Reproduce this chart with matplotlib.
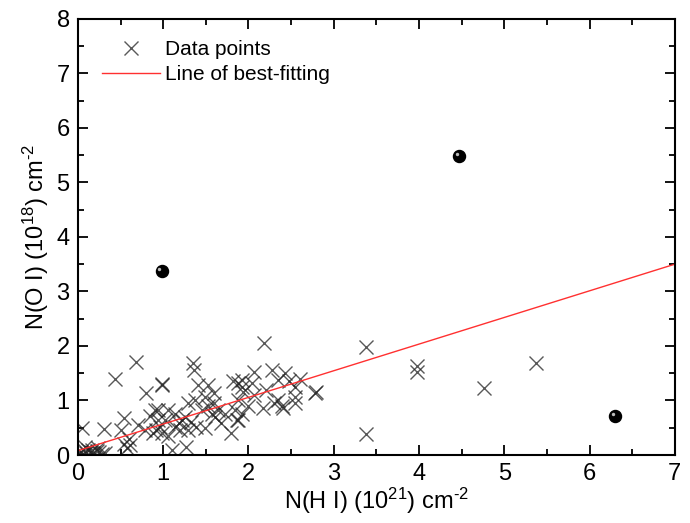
import matplotlib
matplotlib.use("Agg")
import matplotlib.pyplot as plt
import matplotlib.transforms as mtransforms
from matplotlib.ticker import MultipleLocator

plt.rcParams['font.family'] = ['Liberation Sans', 'DejaVu Sans']
plt.rcParams['mathtext.fontset'] = 'custom'
plt.rcParams['mathtext.rm'] = 'Liberation Sans'
plt.rcParams['mathtext.default'] = 'regular'

# N(H I) in 1e21 cm^-2, N(O I) in 1e18 cm^-2
nh = [0.02, 0.04, 0.06, 0.08, 0.10, 0.12, 0.15, 0.18, 0.22, 0.25, 0.28, 0.32,
      0.05, 0.08, 0.16, 0.24, 0.31, 0.43, 0.68, 0.54, 0.54, 0.80, 0.51, 0.90,
      0.94, 0.92, 0.79, 0.98, 0.57, 0.61, 0.70, 0.60, 0.85,
      0.99, 1.35, 1.36, 1.82, 1.92, 1.80, 1.27, 1.10, 1.41, 1.53, 1.59, 1.49,
      1.37, 1.29, 1.59, 1.53, 1.45, 1.64, 1.61, 1.72, 1.84, 1.22, 1.25, 1.18,
      1.14, 1.06, 1.02, 0.94, 0.96, 1.14, 1.39, 1.49, 1.29, 0.98, 1.06, 1.88,
      1.68, 1.20, 1.32, 1.57, 0.88,
      2.18, 2.78, 2.27, 2.07, 2.43, 1.92, 2.35, 2.47, 2.04, 1.88, 2.54, 1.94,
      2.21, 2.07, 2.54, 1.88, 2.17, 2.35, 2.39, 2.41, 2.54, 2.00, 1.92, 1.86,
      2.60, 2.30,
      2.79, 3.38, 3.38, 3.98, 3.98, 4.76, 5.37]
no = [0.03, 0.05, 0.02, 0.07, 0.04, 0.10, 0.06, 0.03, 0.08, 0.05, 0.02, 0.04,
      0.50, 0.15, 0.09, 0.12, 0.48, 1.39, 1.71, 0.67, 0.21, 1.14, 0.46, 0.83,
      0.64, 0.46, 0.46, 1.28, 0.13, 0.18, 0.55, 0.30, 0.72,
      1.30, 1.69, 1.56, 1.36, 1.25, 0.40, 0.15, 0.09, 1.28, 1.28, 1.13, 1.07,
      1.01, 0.95, 0.95, 0.89, 0.83, 0.83, 0.70, 0.76, 0.83, 0.64, 0.70, 0.58,
      0.76, 0.83, 0.64, 0.83, 0.52, 0.52, 0.52, 0.49, 0.46, 0.40, 0.34, 0.64,
      0.58, 0.45, 0.60, 0.75, 0.40,
      2.06, 1.14, 1.56, 1.53, 1.50, 1.38, 1.38, 1.35, 1.32, 1.32, 1.25, 1.16,
      1.19, 1.10, 1.07, 1.01, 0.86, 1.01, 0.89, 0.86, 0.95, 0.89, 0.76, 0.64,
      1.40, 0.95,
      1.16, 1.98, 0.38, 1.64, 1.52, 1.23, 1.69]

# outliers drawn as black spheres
out_nh = [0.98, 4.47, 6.30]
out_no = [3.38, 5.49, 0.72]

# line of best fit, end points
fit_x = [0.0, 7.0]
fit_y = [0.08, 3.50]

fig = plt.figure(figsize=(6.9, 5.23), dpi=100)
ax = fig.add_axes([0.113, 0.130, 0.865, 0.834])

ax.plot(nh, no, linestyle='none', marker='x', markersize=10, markeredgewidth=1.0,
        color='#222222', alpha=0.75, label='Data points')
ax.plot(fit_x, fit_y, color='#ff3030', lw=1.0, label='Line of best-fitting')

ax.scatter(out_nh, out_no, s=75, color='black', zorder=4)
hl = ax.transData + mtransforms.ScaledTranslation(-1.5 / 72, 1.5 / 72, fig.dpi_scale_trans)
ax.scatter(out_nh, out_no, s=6, color='#bbbbbb', transform=hl, zorder=5, linewidths=0)

ax.set_xlim(0, 7)
ax.set_ylim(0, 8)
ax.xaxis.set_major_locator(MultipleLocator(1))
ax.xaxis.set_minor_locator(MultipleLocator(0.5))
ax.yaxis.set_major_locator(MultipleLocator(1))
ax.yaxis.set_minor_locator(MultipleLocator(0.5))
ax.tick_params(which='both', direction='in', top=True, right=True, width=1.3,
               labelsize=17, pad=6)
ax.tick_params(which='major', length=7)
ax.tick_params(which='minor', length=4)
for s in ax.spines.values():
    s.set_linewidth(1.5)

ax.set_xlabel(r'N(H I) (10$^{21}$) cm$^{\text{-2}}$', fontsize=17, labelpad=0)
ax.set_ylabel(r'N(O I) (10$^{18}$) cm$^{\text{-2}}$', fontsize=17, labelpad=4)

leg = ax.legend(loc='upper left', frameon=False, fontsize=15, handlelength=2.8,
                borderaxespad=0.3, bbox_to_anchor=(0.015, 0.985), handletextpad=0.25,
                labelspacing=0.3)

fig.savefig('out.png', dpi=100)
